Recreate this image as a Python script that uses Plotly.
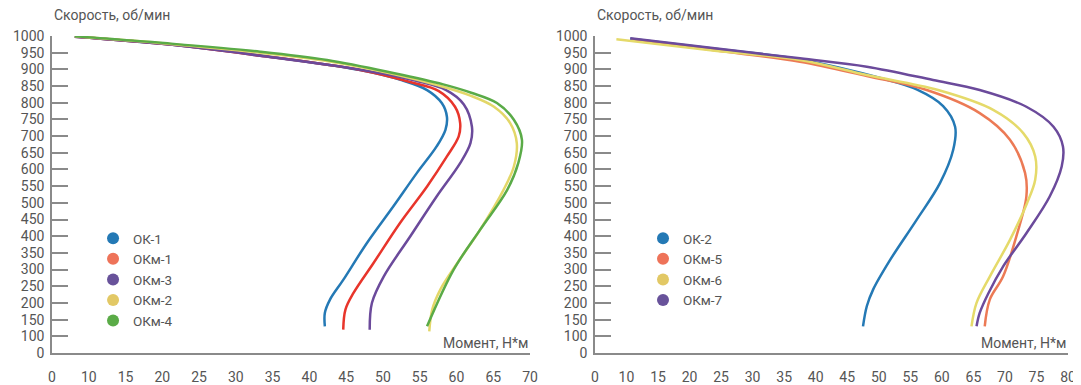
import plotly.graph_objects as go

# ---------------- data ----------------
y_tickvals = list(range(50, 1001, 50))
y_ticktext = ["0"] + [str(v) for v in range(100, 1001, 50)]
x1_tickvals = list(range(5, 71, 5))
x1_ticktext = ["0"] + [str(v) for v in range(10, 71, 5)]
x2_tickvals = list(range(5, 81, 5))
x2_ticktext = ["0"] + [str(v) for v in range(10, 81, 5)]

# left chart (torque, speed)
ok1_t = [8.1, 20.7, 33.3, 46.9, 52.5, 56.0, 58.0, 58.7, 58.5, 57.3, 54.6, 51.4, 47.8, 44.6, 42.8, 42.1, 42.1]
ok1_s = [998, 975, 942, 898, 868, 838, 799, 758, 719, 669, 589, 489, 379, 269, 210, 170, 130]

okm1_t = [8.1, 20.7, 33.3, 46.9, 53.7, 57.6, 59.8, 60.5, 60.3, 58.7, 56.0, 52.3, 48.7, 46.0, 44.9, 44.6]
okm1_s = [998, 975, 941, 898, 862, 835, 788, 739, 699, 639, 549, 439, 319, 230, 180, 120]

okm3_t = [8.1, 20.7, 33.3, 47.0, 54.5, 58.6, 61.0, 62.1, 61.9, 60.5, 57.3, 53.7, 50.1, 48.5, 48.2]
okm3_s = [998, 975, 941, 899, 866, 838, 795, 728, 679, 619, 519, 399, 279, 200, 120]

okm2_t = [8.1, 20.7, 33.3, 42.4, 51.4, 57.5, 61.8, 65.1, 67.3, 68.2, 67.8, 66.4, 63.2, 60.1, 57.8, 56.7, 56.3]
okm2_s = [999, 977, 950, 925, 886, 852, 822, 788, 739, 679, 609, 539, 419, 319, 240, 180, 115]

okm4_t = [8.1, 20.7, 33.3, 42.4, 51.4, 58.2, 62.0, 65.5, 67.8, 68.9, 68.4, 66.9, 63.2, 59.6, 56.0]
okm4_s = [999, 978, 953, 928, 889, 855, 830, 799, 749, 689, 619, 539, 419, 299, 130]

# right chart (torque, speed)
ok2_t = [10.6, 24.0, 37.5, 50.7, 56.0, 60.2, 62.1, 61.8, 59.7, 56.0, 51.8, 49.1, 48.1, 47.5]
ok2_s = [992, 962, 930, 872, 840, 790, 728, 659, 559, 449, 329, 240, 190, 130]

okm5_t = [10.8, 24.0, 37.5, 48.1, 57.6, 66.0, 70.8, 73.2, 73.4, 71.8, 69.7, 67.6, 66.8]
okm5_s = [990, 957, 923, 880, 838, 769, 689, 589, 519, 399, 279, 210, 130]

okm6_t = [8.4, 23.0, 37.5, 48.1, 59.4, 68.2, 72.9, 74.8, 74.8, 73.5, 70.8, 67.6, 65.5, 64.7]
okm6_s = [990, 958, 928, 883, 838, 778, 709, 639, 569, 499, 389, 279, 200, 130]

okm7_t = [10.6, 24.0, 37.5, 48.1, 58.6, 66.0, 73.4, 77.7, 79.2, 79.0, 77.1, 73.4, 69.7, 67.4, 66.0, 65.5]
okm7_s = [993, 963, 933, 908, 868, 838, 788, 728, 669, 609, 519, 409, 309, 230, 170, 130]

left_series = [
    ("ОК-1", ok1_t, ok1_s, "#2479b5", "#2479b5"),
    ("ОКм-1", okm1_t, okm1_s, "#e8352b", "#ee7359"),
    ("ОКм-3", okm3_t, okm3_s, "#6b4a9b", "#68529a"),
    ("ОКм-2", okm2_t, okm2_s, "#e3d768", "#e2c865"),
    ("ОКм-4", okm4_t, okm4_s, "#5aab47", "#5aab47"),
]
right_series = [
    ("ОК-2", ok2_t, ok2_s, "#2479b5", "#2479b5"),
    ("ОКм-5", okm5_t, okm5_s, "#ec7a55", "#ee7359"),
    ("ОКм-6", okm6_t, okm6_s, "#e5da6a", "#e2c865"),
    ("ОКм-7", okm7_t, okm7_s, "#6b4a9b", "#68529a"),
]

FONT = "Roboto, 'Open Sans', sans-serif"
TXT = "#555555"
AXC = "#8a8a8a"

fig = go.Figure()

for name, t, s, lc, mc in left_series:
    fig.add_trace(go.Scatter(x=t, y=s, mode="lines", line=dict(color=lc, width=2.5, shape="spline", smoothing=1.0),
                             showlegend=False, xaxis="x", yaxis="y", hoverinfo="skip"))
for name, t, s, lc, mc in left_series:
    fig.add_trace(go.Scatter(x=[None], y=[None], mode="markers", name=name,
                             marker=dict(color=mc, size=16), xaxis="x", yaxis="y", legend="legend"))

for name, t, s, lc, mc in right_series:
    fig.add_trace(go.Scatter(x=t, y=s, mode="lines", line=dict(color=lc, width=2.5, shape="spline", smoothing=1.0),
                             showlegend=False, xaxis="x2", yaxis="y2", hoverinfo="skip"))
for name, t, s, lc, mc in right_series:
    fig.add_trace(go.Scatter(x=[None], y=[None], mode="markers", name=name,
                             marker=dict(color=mc, size=16), xaxis="x2", yaxis="y2", legend="legend2"))

xcommon = dict(showgrid=False, zeroline=False, showline=True, linecolor=AXC, linewidth=1.5, automargin=False,
               ticks="", tickfont=dict(family=FONT, size=14, color=TXT), ticklabelstandoff=10)
ycommon = dict(showgrid=False, zeroline=False, showline=True, linecolor=AXC, linewidth=1.5, automargin=False,
               ticks="inside", ticklen=16, tickwidth=1.5, tickcolor=AXC,
               tickfont=dict(family=FONT, size=14, color=TXT), range=[50, 1000],
               tickmode="array", tickvals=y_tickvals, ticktext=y_ticktext, ticklabelstandoff=3)

legcommon = dict(bgcolor="rgba(0,0,0,0)", font=dict(family=FONT, size=13.5, color=TXT),
                 xanchor="left", yanchor="top", tracegroupgap=0, itemsizing="constant")

# the page body adds an 8 px offset, so the figure is sized 8 px smaller
fig.update_layout(
    width=1073, height=377,
    margin=dict(l=44, r=13, t=28, b=32),
    paper_bgcolor="white", plot_bgcolor="white",
    xaxis=dict(domain=[0, 0.4705], range=[5, 70], tickmode="array", tickvals=x1_tickvals,
               ticktext=x1_ticktext, anchor="y", **xcommon),
    yaxis=dict(domain=[0, 1], anchor="x", **ycommon),
    xaxis2=dict(domain=[0.5344, 1], range=[5, 80], tickmode="array", tickvals=x2_tickvals,
                ticktext=x2_ticktext, anchor="y2", **xcommon),
    yaxis2=dict(domain=[0, 1], anchor="x2", **ycommon),
    legend=dict(x=0.0404, y=0.41, **legcommon),
    legend2=dict(x=0.5817, y=0.41, **legcommon),
    annotations=[
        dict(text="Скорость, об/мин", xref="paper", yref="paper", x=0, y=1.065, xanchor="left",
             yanchor="middle", showarrow=False, font=dict(family=FONT, size=14, color=TXT)),
        dict(text="Скорость, об/мин", xref="paper", yref="paper", x=0.5344, y=1.065, xanchor="left",
             yanchor="middle", showarrow=False, font=dict(family=FONT, size=14, color=TXT)),
        dict(text="Момент, Н*м", xref="paper", yref="paper", x=0.4705, y=0.0, xanchor="right",
             yanchor="bottom", showarrow=False, font=dict(family=FONT, size=14, color=TXT)),
        dict(text="Момент, Н*м", xref="paper", yref="paper", x=1.0, y=0.0, xanchor="right",
             yanchor="bottom", showarrow=False, font=dict(family=FONT, size=14, color=TXT)),
    ],
)

fig.write_html("out.html")
